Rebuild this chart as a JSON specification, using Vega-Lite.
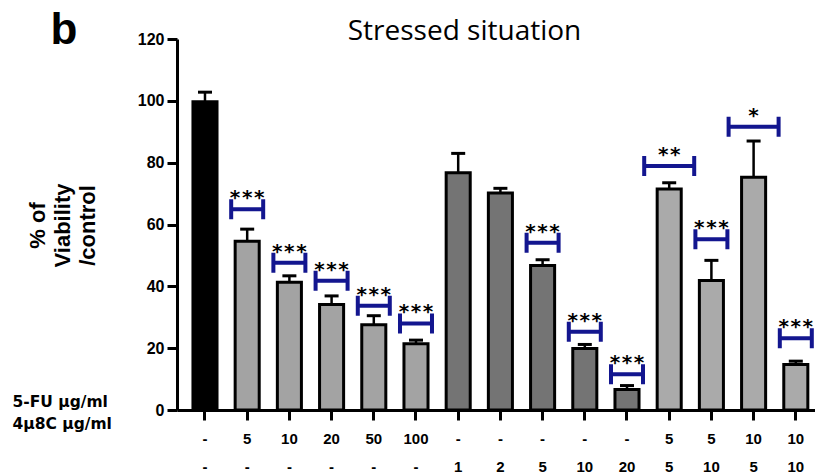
{
  "$schema": "https://vega.github.io/schema/vega-lite/v6.json",
  "width": 638,
  "height": 371,
  "autosize": {"type": "none"},
  "padding": {"left": 177, "top": 39, "right": 0, "bottom": 64},
  "background": "white",
  "config": {"view": {"stroke": null}, "font": "Liberation Sans"},
  "datasets": {
    "bars": [
      {"cond": "-|-", "group": "control", "value": 99.7, "upper": 102.8},
      {"cond": "5|-", "group": "5-FU", "value": 54.6, "upper": 58.5},
      {"cond": "10|-", "group": "5-FU", "value": 41.3, "upper": 43.4},
      {"cond": "20|-", "group": "5-FU", "value": 34.1, "upper": 36.9},
      {"cond": "50|-", "group": "5-FU", "value": 27.6, "upper": 30.5},
      {"cond": "100|-", "group": "5-FU", "value": 21.4, "upper": 22.6},
      {"cond": "-|1", "group": "4μ8C", "value": 76.7, "upper": 83.0},
      {"cond": "-|2", "group": "4μ8C", "value": 70.2, "upper": 71.7},
      {"cond": "-|5", "group": "4μ8C", "value": 46.7, "upper": 48.6},
      {"cond": "-|10", "group": "4μ8C", "value": 19.9, "upper": 21.2},
      {"cond": "-|20", "group": "4μ8C", "value": 6.6, "upper": 7.9},
      {"cond": "5|5", "group": "combo", "value": 71.5, "upper": 73.5},
      {"cond": "5|10", "group": "combo", "value": 41.9, "upper": 48.4},
      {"cond": "10|5", "group": "combo", "value": 75.3, "upper": 87.0},
      {"cond": "10|10", "group": "combo", "value": 14.7, "upper": 15.8}
    ],
    "brackets": [
      {"cond": "5|-", "y": 64.9, "sig": "***"},
      {"cond": "10|-", "y": 47.6, "sig": "***"},
      {"cond": "20|-", "y": 41.8, "sig": "***"},
      {"cond": "50|-", "y": 33.7, "sig": "***"},
      {"cond": "100|-", "y": 28.0, "sig": "***"},
      {"cond": "-|5", "y": 54.1, "sig": "***"},
      {"cond": "-|10", "y": 25.3, "sig": "***"},
      {"cond": "-|20", "y": 11.6, "sig": "***"},
      {"cond": "5|5", "y": 78.9, "sig": "**"},
      {"cond": "5|10", "y": 55.2, "sig": "***"},
      {"cond": "10|5", "y": 91.6, "sig": "*"},
      {"cond": "10|10", "y": 23.2, "sig": "***"}
    ]
  },
  "layer": [
    {
      "data": {"name": "bars"},
      "mark": {"type": "bar", "stroke": "black", "strokeWidth": 3, "opacity": 1},
      "encoding": {
        "x": {
          "field": "cond", "type": "nominal",
          "scale": {
            "domain": ["-|-", "5|-", "10|-", "20|-", "50|-", "100|-", "-|1", "-|2", "-|5", "-|10", "-|20", "5|5", "5|10", "10|5", "10|10"],
            "paddingInner": 0.43, "paddingOuter": 0.274, "align": 0.69
          },
          "axis": {
            "orient": "bottom",
            "labelExpr": "split(datum.value, '|')",
            "labelAngle": 0,
            "labelFont": "Liberation Sans", "labelFontSize": 15, "labelFontWeight": "bold", "labelColor": "black",
            "labelLineHeight": 28, "labelPadding": 11, "labelBaseline": "top",
            "tickSize": 10, "tickWidth": 3, "tickColor": "black",
            "domainWidth": 3, "domainColor": "black",
            "title": ["5-FU μg/ml", "4μ8C μg/ml"],
            "titleX": -165, "titleY": -4, "titleAlign": "left", "titleBaseline": "alphabetic", "titleAngle": 0,
            "titleFont": "DejaVu Sans", "titleFontSize": 15.5, "titleFontWeight": "bold", "titleLineHeight": 22, "titleColor": "black"
          }
        },
        "y": {
          "field": "value", "type": "quantitative",
          "scale": {"domain": [0, 120], "nice": false},
          "axis": {
            "values": [0, 20, 40, 60, 80, 100, 120],
            "grid": false,
            "labelFont": "Liberation Sans", "labelFontSize": 16, "labelFontWeight": "bold", "labelColor": "black", "labelPadding": 3,
            "tickSize": 10, "tickWidth": 3, "tickColor": "black",
            "domainWidth": 3, "domainColor": "black",
            "title": ["% of", "Viability", "/control"],
            "titleX": -140, "titleY": 186, "titleAngle": 270, "titleAlign": "center", "titleBaseline": "middle",
            "titleFont": "Liberation Sans", "titleFontSize": 22, "titleFontWeight": "bold", "titleLineHeight": 25, "titleColor": "black"
          }
        },
        "color": {
          "field": "group", "type": "nominal",
          "scale": {"domain": ["control", "5-FU", "4μ8C", "combo"], "range": ["#000000", "#a3a3a3", "#747474", "#aaaaaa"]},
          "legend": null
        }
      }
    },
    {
      "data": {"name": "bars"},
      "mark": {"type": "rule", "strokeWidth": 2.5, "color": "black", "opacity": 1},
      "encoding": {
        "x": {"field": "cond", "type": "nominal", "axis": null},
        "y": {"field": "value", "type": "quantitative", "axis": null},
        "y2": {"field": "upper"}
      }
    },
    {
      "data": {"name": "bars"},
      "mark": {"type": "tick", "size": 14, "thickness": 3, "color": "black", "opacity": 1},
      "encoding": {
        "x": {"field": "cond", "type": "nominal", "axis": null},
        "y": {"field": "upper", "type": "quantitative", "axis": null}
      }
    },
    {
      "data": {"name": "brackets"},
      "transform": [{"filter": {"not": {"field": "cond", "oneOf": ["5|5", "10|5"]}}}],
      "mark": {"type": "point", "shape": "M -1 -0.625 L -1 0.625 M -1 0 L 1 0 M 1 -0.625 L 1 0.625", "size": 1024, "filled": false, "color": "#13168f", "strokeWidth": 4, "opacity": 1},
      "encoding": {
        "x": {
          "field": "cond", "type": "nominal",
          "axis": {
            "orient": "top", "labels": false, "ticks": false, "domain": false, "grid": false,
            "title": "Stressed situation",
            "titleX": 287, "titleY": 0, "titleAlign": "center", "titleBaseline": "alphabetic",
            "titleFont": "Open Sans", "titleFontSize": 28, "titleFontWeight": "normal", "titleColor": "black"
          }
        },
        "y": {
          "field": "y", "type": "quantitative",
          "axis": {
            "orient": "left", "labels": false, "ticks": false, "domain": false, "grid": false,
            "title": "b",
            "titleX": -127, "titleY": 4, "titleAngle": 0, "titleAlign": "left", "titleBaseline": "alphabetic",
            "titleFont": "Liberation Sans", "titleFontSize": 44, "titleFontWeight": "bold", "titleColor": "black"
          }
        }
      }
    },
    {
      "data": {"name": "brackets"},
      "transform": [{"filter": {"field": "cond", "oneOf": ["5|5", "10|5"]}}],
      "mark": {"type": "point", "shape": "M -1 -0.4 L -1 0.4 M -1 0 L 1 0 M 1 -0.4 L 1 0.4", "size": 2500, "filled": false, "color": "#13168f", "strokeWidth": 4, "opacity": 1},
      "encoding": {
        "x": {"field": "cond", "type": "nominal", "axis": null},
        "y": {"field": "y", "type": "quantitative", "axis": null}
      }
    },
    {
      "data": {"name": "brackets"},
      "mark": {"type": "text", "font": "DejaVu Sans Mono", "fontSize": 20, "fontWeight": "bold", "baseline": "alphabetic", "dy": -5, "color": "black"},
      "encoding": {
        "x": {"field": "cond", "type": "nominal", "axis": null},
        "y": {"field": "y", "type": "quantitative", "axis": null},
        "text": {"field": "sig"}
      }
    }
  ],
  "resolve": {"axis": {"x": "independent", "y": "independent"}}
}
